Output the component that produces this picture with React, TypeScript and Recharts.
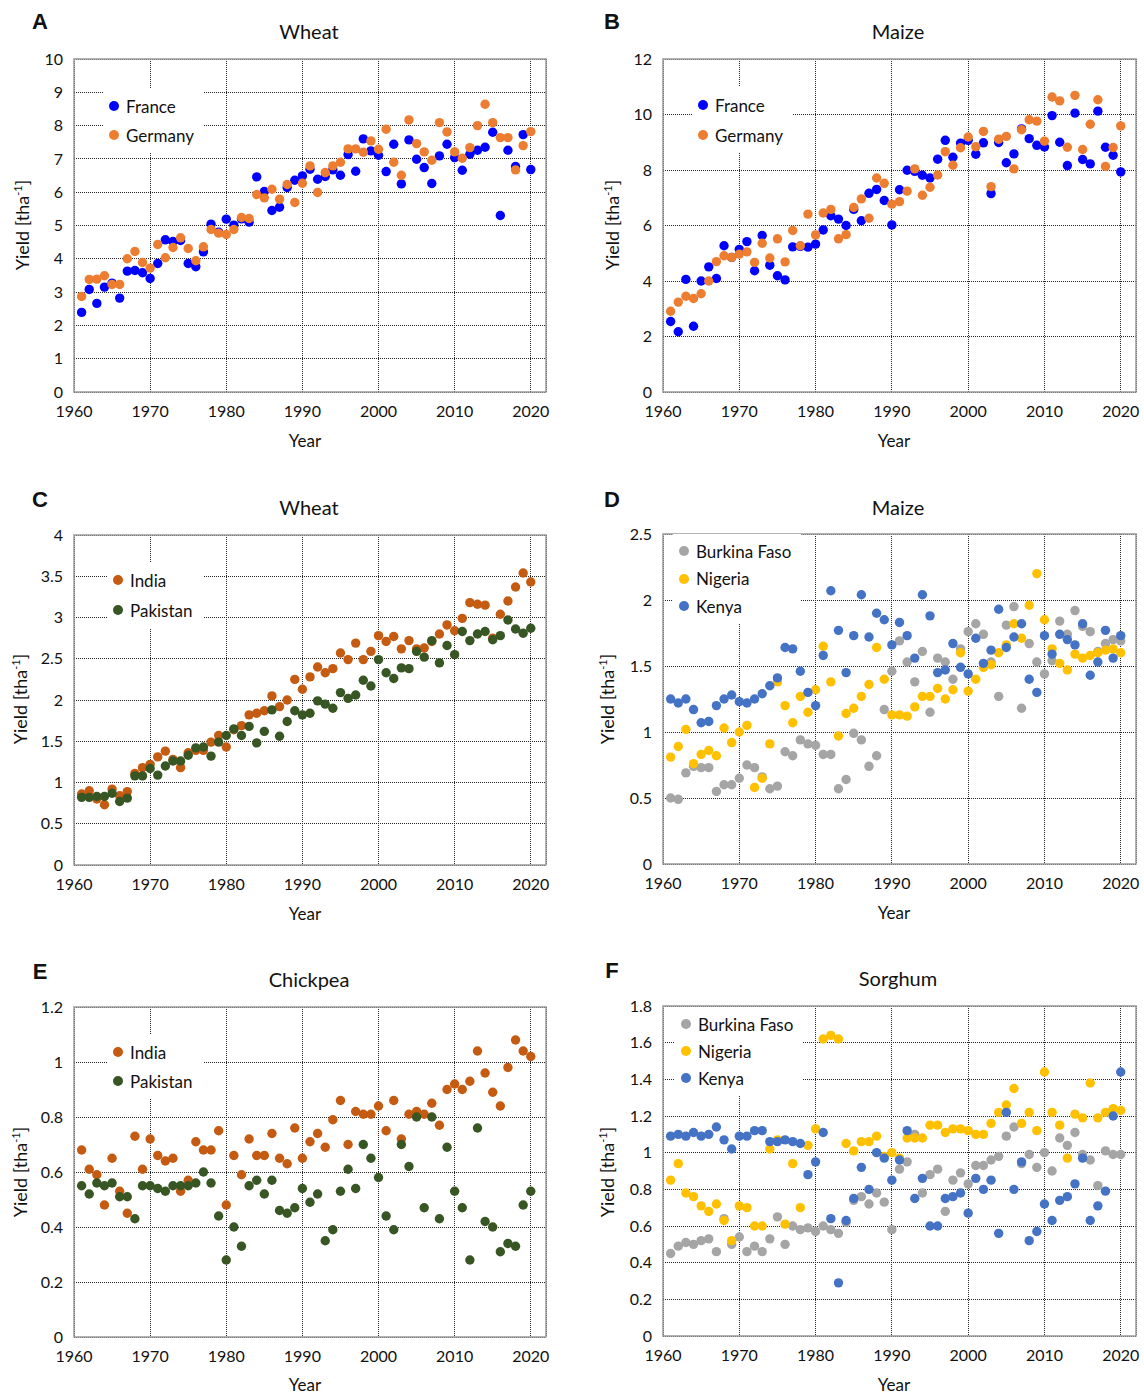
import React from "react";
import {
  ScatterChart,
  Scatter,
  XAxis,
  YAxis,
  CartesianGrid,
  ReferenceArea,
  Legend,
} from "recharts";

const years = [
  1961, 1962, 1963, 1964, 1965, 1966, 1967, 1968, 1969, 1970,
  1971, 1972, 1973, 1974, 1975, 1976, 1977, 1978, 1979, 1980,
  1981, 1982, 1983, 1984, 1985, 1986, 1987, 1988, 1989, 1990,
  1991, 1992, 1993, 1994, 1995, 1996, 1997, 1998, 1999, 2000,
  2001, 2002, 2003, 2004, 2005, 2006, 2007, 2008, 2009, 2010,
  2011, 2012, 2013, 2014, 2015, 2016, 2017, 2018, 2019, 2020,
];
const xTicks = [1960, 1970, 1980, 1990, 2000, 2010, 2020];

// A - wheat, Europe
const wheatFrance = [
  2.39, 3.08, 2.66, 3.15, 3.27, 2.82, 3.63, 3.65, 3.58, 3.41,
  3.86, 4.57, 4.52, 4.55, 3.86, 3.76, 4.21, 5.04, 4.8, 5.19,
  5.01, 5.2, 5.1, 6.46, 6.02, 5.45, 5.55, 6.14, 6.36, 6.49,
  6.69, 6.39, 6.47, 6.67, 6.51, 7.13, 6.63, 7.6, 7.24, 7.11,
  6.62, 7.44, 6.25, 7.57, 6.99, 6.74, 6.26, 7.09, 7.44, 7.04,
  6.66, 7.14, 7.26, 7.35, 7.8, 5.3, 7.26, 6.77, 7.73, 6.68,
];
const wheatGermany = [
  2.87, 3.38, 3.39, 3.49, 3.23, 3.23, 4.0, 4.22, 3.89, 3.72,
  4.43, 4.03, 4.34, 4.63, 4.31, 3.94, 4.36, 4.88, 4.77, 4.73,
  4.88, 5.24, 5.21, 5.93, 5.83, 6.09, 5.79, 6.23, 5.69, 6.27,
  6.79, 5.99, 6.59, 6.79, 6.9, 7.3, 7.3, 7.2, 7.54, 7.29,
  7.89, 6.9, 6.51, 8.17, 7.46, 7.21, 6.96, 8.09, 7.81, 7.21,
  7.02, 7.34, 8.0, 8.64, 8.09, 7.64, 7.64, 6.67, 7.4, 7.82,
];

// B - maize, Europe
const maizeFrance = [
  2.54, 2.17, 4.06, 2.37, 4.0, 4.51, 4.09, 5.27, 4.85, 5.14,
  5.42, 4.37, 5.64, 4.57, 4.19, 4.04, 5.23, 5.25, 5.22, 5.33,
  5.84, 6.35, 6.23, 6.0, 6.58, 6.17, 7.16, 7.3, 6.9, 6.02,
  7.29, 7.99, 7.95, 7.81, 7.71, 8.39, 9.07, 8.46, 8.97, 9.07,
  8.57, 8.98, 7.15, 8.99, 8.26, 8.58, 9.48, 9.13, 8.89, 8.83,
  9.96, 9.0, 8.16, 10.05, 8.38, 8.22, 10.12, 8.82, 8.53, 7.93,
];
const maizeGermany = [
  2.91, 3.24, 3.45, 3.37, 3.54, 4.0, 4.7, 4.91, 4.85, 4.97,
  5.05, 4.67, 5.36, 4.83, 5.52, 4.69, 5.82, 5.27, 6.41, 5.66,
  6.45, 6.58, 5.52, 5.67, 6.65, 6.96, 6.26, 7.71, 7.52, 6.77,
  6.86, 7.24, 8.04, 7.09, 7.38, 7.82, 8.66, 8.17, 8.8, 9.19,
  8.84, 9.39, 7.4, 9.11, 9.21, 8.04, 9.45, 9.81, 9.76, 9.04,
  10.63, 10.49, 8.82, 10.69, 8.74, 9.65, 10.53, 8.13, 8.81, 9.59,
];

// C - wheat, South Asia
const wheatIndia = [
  0.86, 0.9, 0.8, 0.73, 0.92, 0.84, 0.89, 1.11, 1.18, 1.22,
  1.31, 1.38, 1.28, 1.18, 1.36, 1.39, 1.39, 1.49, 1.57, 1.43,
  1.64, 1.69, 1.82, 1.84, 1.87, 2.05, 1.92, 2.0, 2.25, 2.13,
  2.28, 2.4, 2.33, 2.38, 2.57, 2.49, 2.69, 2.49, 2.59, 2.78,
  2.71, 2.77, 2.62, 2.72, 2.62, 2.63, 2.71, 2.8, 2.91, 2.84,
  2.99, 3.18, 3.16, 3.15, 2.75, 3.04, 3.2, 3.37, 3.54, 3.43,
];
const wheatPakistan = [
  0.82, 0.82, 0.83, 0.83, 0.87, 0.77, 0.81, 1.08, 1.08, 1.17,
  1.09, 1.2, 1.26, 1.26, 1.33, 1.42, 1.43, 1.32, 1.49, 1.57,
  1.65, 1.57, 1.68, 1.48, 1.62, 1.88, 1.56, 1.74, 1.87, 1.82,
  1.84, 1.99, 1.95, 1.9, 2.09, 2.02, 2.06, 2.24, 2.17, 2.49,
  2.33, 2.26, 2.39, 2.38, 2.59, 2.52, 2.72, 2.45, 2.66, 2.55,
  2.83, 2.72, 2.8, 2.83, 2.73, 2.78, 2.97, 2.86, 2.81, 2.87,
];

// D - maize, Africa
const maizeBurkina = [
  0.5, 0.49, 0.69, 0.74, 0.73, 0.73, 0.55, 0.6, 0.6, 0.65,
  0.75, 0.73, 0.66, 0.57, 0.59, 0.85, 0.82, 0.94, 0.91, 0.9,
  0.83, 0.83, 0.57, 0.64, 0.99, 0.94, 0.74, 0.82, 1.17, 1.46,
  1.69, 1.53, 1.38, 1.61, 1.15, 1.56, 1.53, 1.4, 1.63, 1.76,
  1.82, 1.74, 1.53, 1.27, 1.81, 1.95, 1.18, 1.67, 1.53, 1.44,
  1.54, 1.84, 1.74, 1.92, 1.8, 1.76, 1.61, 1.67, 1.7, 1.69,
];
const maizeNigeria = [
  0.81, 0.89, 1.02, 0.76, 0.83, 0.86, 0.82, 1.03, 0.92, 1.0,
  1.05, 0.58, 0.65, 0.91, 1.38, 1.2, 1.07, 1.27, 1.15, 1.32,
  1.65, 1.38, 0.97, 1.14, 1.18, 1.27, 1.36, 1.64, 1.4, 1.13,
  1.13, 1.12, 1.19, 1.27, 1.27, 1.33, 1.25, 1.32, 1.6, 1.31,
  1.4, 1.49, 1.51, 1.6, 1.66, 1.82, 1.71, 1.96, 2.2, 1.85,
  1.63, 1.52, 1.47, 1.59, 1.56, 1.58, 1.6, 1.62, 1.63, 1.6,
];
const maizeKenya = [
  1.25, 1.22, 1.25, 1.17, 1.07, 1.08, 1.2, 1.25, 1.28, 1.23,
  1.22, 1.25, 1.29, 1.35, 1.41, 1.64, 1.63, 1.46, 1.3, 1.2,
  1.58, 2.07, 1.77, 1.45, 1.73, 2.04, 1.72, 1.9, 1.85, 1.66,
  1.83, 1.73, 1.56, 2.04, 1.88, 1.45, 1.47, 1.67, 1.49, 1.44,
  1.71, 1.52, 1.62, 1.93, 1.64, 1.72, 1.82, 1.4, 1.3, 1.73,
  1.59, 1.74, 1.7, 1.66, 1.82, 1.43, 1.53, 1.77, 1.56, 1.73,
];

// E - chickpea, South Asia
const chickpeaIndia = [
  0.68, 0.61, 0.59, 0.48, 0.65, 0.53, 0.45, 0.73, 0.61, 0.72,
  0.66, 0.64, 0.65, 0.53, 0.57, 0.71, 0.68, 0.68, 0.75, 0.48,
  0.66, 0.59, 0.72, 0.66, 0.66, 0.74, 0.65, 0.63, 0.76, 0.65,
  0.71, 0.74, 0.69, 0.79, 0.86, 0.7, 0.82, 0.81, 0.81, 0.84,
  0.75, 0.86, 0.72, 0.81, 0.82, 0.81, 0.85, 0.77, 0.9, 0.92,
  0.9, 0.93, 1.04, 0.96, 0.89, 0.84, 0.98, 1.08, 1.04, 1.02,
];
const chickpeaPakistan = [
  0.55, 0.52, 0.56, 0.55, 0.56, 0.51, 0.51, 0.43, 0.55, 0.55,
  0.54, 0.53, 0.55, 0.55, 0.55, 0.56, 0.6, 0.56, 0.44, 0.28,
  0.4, 0.33, 0.55, 0.57, 0.52, 0.57, 0.46, 0.45, 0.47, 0.54,
  0.49, 0.52, 0.35, 0.39, 0.53, 0.61, 0.54, 0.7, 0.65, 0.58,
  0.44, 0.39, 0.7, 0.62, 0.8, 0.47, 0.8, 0.43, 0.69, 0.53,
  0.47, 0.28, 0.76, 0.42, 0.4, 0.31, 0.34, 0.33, 0.48, 0.53,
];

// F - sorghum, Africa
const sorghumBurkina = [
  0.45, 0.49, 0.51, 0.5, 0.52, 0.53, 0.46, 0.64, 0.5, 0.54,
  0.46, 0.49, 0.46, 0.53, 0.65, 0.5, 0.6, 0.58, 0.59, 0.57,
  0.6, 0.58, 0.56, 0.62, 0.74, 0.76, 0.72, 0.78, 0.73, 0.58,
  0.91, 0.95, 1.1, 0.78, 0.88, 0.91, 0.68, 0.85, 0.89, 0.83,
  0.93, 0.93, 0.96, 0.98, 1.09, 1.14, 0.94, 0.99, 0.92, 1.0,
  0.9, 1.08, 1.04, 1.11, 0.99, 0.96, 0.82, 1.01, 0.99, 0.99,
];
const sorghumNigeria = [
  0.85, 0.94, 0.78, 0.76, 0.71, 0.68, 0.72, 0.63, 0.52, 0.71,
  0.7, 0.6, 0.6, 1.02, 1.07, 0.61, 0.94, 0.7, 1.04, 1.13,
  1.62, 1.64, 1.62, 1.05, 1.01, 1.06, 1.06, 1.09, 0.98, 1.0,
  0.97, 1.08, 1.08, 1.08, 1.15, 1.15, 1.11, 1.13, 1.13, 1.12,
  1.1, 1.1, 1.16, 1.22, 1.26, 1.35, 1.16, 1.22, 1.12, 1.44,
  1.22, 1.15, 0.97, 1.21, 1.19, 1.38, 1.19, 1.22, 1.24, 1.23,
];
const sorghumKenya = [
  1.09, 1.1, 1.09, 1.11, 1.09, 1.1, 1.14, 1.07, 1.02, 1.09,
  1.09, 1.12, 1.12, 1.06, 1.06, 1.07, 1.06, 1.05, 0.88, 0.95,
  1.11, 0.64, 0.29, 0.63, 0.75, 0.92, 0.8, 1.0, 0.97, 0.85,
  0.96, 1.12, 0.75, 0.86, 0.6, 0.6, 0.75, 0.76, 0.78, 0.67,
  0.86, 0.8, 0.85, 0.56, 1.22, 0.8, 0.95, 0.52, 0.57, 0.72,
  0.63, 0.74, 0.76, 0.83, 0.97, 0.63, 0.71, 0.79, 1.2, 1.44,
];

const FONT = "Lato, 'Open Sans', sans-serif";
const BLUE = "#0000ff";
const ORANGE = "#ed7d31";
const BROWN = "#c55a11";
const GREEN = "#375623";
const GREY = "#a5a5a5";
const GOLD = "#ffc000";
const STEEL = "#4472c4";

type Series = { name: string; color: string; values: number[] };

const cols = [
  { chartLeft: 0, plotLeft: 74, plotRight: 546 },
  { chartLeft: 572, plotLeft: 663, plotRight: 1136 },
];

const panels = [
  {
    letter: "A", title: "Wheat", col: 0, plotTop: 59, plotBottom: 392,
    yMax: 10, yTicks: [0, 1, 2, 3, 4, 5, 6, 7, 8, 9, 10],
    series: [
      { name: "France", color: BLUE, values: wheatFrance },
      { name: "Germany", color: ORANGE, values: wheatGermany },
    ],
    legend: { dx: 40, dy: 47, row: 29 },
    letterPos: [40, 22], titlePos: [309, 31], ylabPos: [22, 225], yearPos: [305, 440],
  },
  {
    letter: "B", title: "Maize", col: 1, plotTop: 59, plotBottom: 392,
    yMax: 12, yTicks: [0, 2, 4, 6, 8, 10, 12],
    series: [
      { name: "France", color: BLUE, values: maizeFrance },
      { name: "Germany", color: ORANGE, values: maizeGermany },
    ],
    legend: { dx: 40, dy: 46, row: 30 },
    letterPos: [612, 22], titlePos: [898, 31], ylabPos: [612, 225], yearPos: [894, 440],
  },
  {
    letter: "C", title: "Wheat", col: 0, plotTop: 535, plotBottom: 865,
    yMax: 4, yTicks: [0, 0.5, 1, 1.5, 2, 2.5, 3, 3.5, 4],
    series: [
      { name: "India", color: BROWN, values: wheatIndia },
      { name: "Pakistan", color: GREEN, values: wheatPakistan },
    ],
    legend: { dx: 44, dy: 45, row: 30 },
    letterPos: [40, 500], titlePos: [309, 507], ylabPos: [20, 699], yearPos: [305, 913],
  },
  {
    letter: "D", title: "Maize", col: 1, plotTop: 534, plotBottom: 864,
    yMax: 2.5, yTicks: [0, 0.5, 1, 1.5, 2, 2.5],
    series: [
      { name: "Burkina Faso", color: GREY, values: maizeBurkina },
      { name: "Nigeria", color: GOLD, values: maizeNigeria },
      { name: "Kenya", color: STEEL, values: maizeKenya },
    ],
    legend: { dx: 21, dy: 17, row: 27.5 },
    letterPos: [612, 500], titlePos: [898, 507], ylabPos: [607, 699], yearPos: [894, 912],
  },
  {
    letter: "E", title: "Chickpea", col: 0, plotTop: 1007, plotBottom: 1337,
    yMax: 1.2, yTicks: [0, 0.2, 0.4, 0.6, 0.8, 1, 1.2],
    series: [
      { name: "India", color: BROWN, values: chickpeaIndia },
      { name: "Pakistan", color: GREEN, values: chickpeaPakistan },
    ],
    legend: { dx: 44, dy: 45, row: 29 },
    letterPos: [40, 972], titlePos: [309, 979], ylabPos: [20, 1172], yearPos: [305, 1384],
  },
  {
    letter: "F", title: "Sorghum", col: 1, plotTop: 1006, plotBottom: 1336,
    yMax: 1.8, yTicks: [0, 0.2, 0.4, 0.6, 0.8, 1, 1.2, 1.4, 1.6, 1.8],
    series: [
      { name: "Burkina Faso", color: GREY, values: sorghumBurkina },
      { name: "Nigeria", color: GOLD, values: sorghumNigeria },
      { name: "Kenya", color: STEEL, values: sorghumKenya },
    ],
    legend: { dx: 23, dy: 18, row: 27 },
    letterPos: [612, 971], titlePos: [898, 978], ylabPos: [607, 1172], yearPos: [894, 1384],
  },
];

const dot = (color: string) => (p: any) =>
  <circle cx={p.cx} cy={p.cy} r={4.7} fill={color} />;

const tickStyle = { fontSize: 16, fill: "#111", fontFamily: FONT };

const Panel = ({ p }: { p: (typeof panels)[number] }) => {
  const c = cols[p.col];
  const chartTop = p.plotTop - 50;
  const width = 572;
  const height = p.plotBottom - chartTop + 40;
  const legLeft = c.plotLeft - c.chartLeft + p.legend.dx - 5 - 6;
  const legTop = 50 + p.legend.dy - p.legend.row / 2 - 3;
  return (
    <div style={{ position: "absolute", left: c.chartLeft, top: chartTop }}>
      <ScatterChart
        width={width}
        height={height}
        margin={{ top: 50, right: c.chartLeft + width - c.plotRight, left: 0, bottom: 0 }}
      >
        <CartesianGrid stroke="#222" strokeDasharray="1 1" strokeWidth={1} shapeRendering="crispEdges" />
        <XAxis
          type="number"
          dataKey="x"
          domain={[1960, 2022]}
          ticks={xTicks}
          height={40}
          axisLine={false}
          tickLine={false}
          tickSize={6}
          tickMargin={8}
          tick={tickStyle}
        />
        <YAxis
          type="number"
          dataKey="y"
          domain={[0, p.yMax]}
          ticks={p.yTicks}
          width={c.plotLeft - c.chartLeft}
          axisLine={false}
          tickLine={false}
          tickSize={6}
          tickMargin={5}
          tick={tickStyle}
        />
        <ReferenceArea
          x1={1960}
          x2={2022}
          y1={0}
          y2={p.yMax}
          fill="none"
          stroke="#999"
          strokeWidth={1.5}
        />
        <Legend
          layout="vertical"
          align="center"
          verticalAlign="middle"
          wrapperStyle={{ left: legLeft, top: legTop, width: "auto", height: "auto" }}
          content={() => (
            <div style={{ background: "#fff", padding: "3px 10px 3px 6px", fontFamily: FONT, fontSize: 17, color: "#111" }}>
              {p.series.map((s: Series) => (
                <div key={s.name} style={{ display: "flex", alignItems: "center", height: p.legend.row, whiteSpace: "nowrap" }}>
                  <span style={{ width: 10, height: 10, borderRadius: "50%", background: s.color, marginRight: 7, display: "inline-block" }} />
                  <span>{s.name}</span>
                </div>
              ))}
            </div>
          )}
        />
        {p.series.map((s: Series) => (
          <Scatter
            key={s.name}
            name={s.name}
            data={years.map((yr, i) => ({ x: yr, y: s.values[i] }))}
            fill={s.color}
            shape={dot(s.color)}
            isAnimationActive={false}
          />
        ))}
      </ScatterChart>
    </div>
  );
};

const centered = (x: number, y: number, extra: React.CSSProperties = {}): React.CSSProperties => ({
  position: "absolute",
  left: x,
  top: y,
  transform: "translate(-50%, -50%)",
  whiteSpace: "nowrap",
  fontFamily: FONT,
  color: "#111",
  ...extra,
});

export default function App() {
  return (
    <div style={{ position: "absolute", left: 0, top: 0, width: 1144, height: 1393, background: "#fff", overflow: "hidden" }}>
      {panels.map((p) => (
        <React.Fragment key={p.letter}>
          <Panel p={p} />
          <div style={centered(p.letterPos[0], p.letterPos[1], { fontFamily: "'Liberation Sans', Arial, sans-serif", fontWeight: 700, fontSize: 22 })}>
            {p.letter}
          </div>
          <div style={centered(p.titlePos[0], p.titlePos[1], { fontSize: 20 })}>{p.title}</div>
          <div style={centered(p.yearPos[0], p.yearPos[1], { fontSize: 17 })}>Year</div>
          <div style={centered(p.ylabPos[0], p.ylabPos[1], { fontSize: 18, transform: "translate(-50%, -50%) rotate(-90deg)" })}>
            Yield [tha<sup style={{ fontSize: 11 }}>-1</sup>]
          </div>
        </React.Fragment>
      ))}
    </div>
  );
}
